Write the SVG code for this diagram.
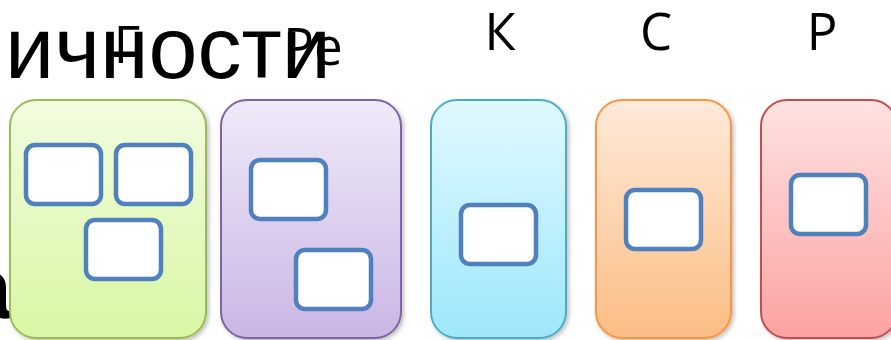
<svg xmlns="http://www.w3.org/2000/svg" width="891" height="340" viewBox="0 0 891 340">
<style>
.title{font-family:"Liberation Sans",Arial,sans-serif;font-size:88px;fill:#000}
.lbl{font-family:"Open Sans","Liberation Sans",sans-serif;font-size:51px;fill:#000;text-anchor:middle}
.inner{fill:#fff;stroke:#4F81BD;stroke-width:4.5}
.card{stroke-width:2}
</style>
<defs>
<filter id="sh" x="-10%" y="-10%" width="125%" height="125%">
<feDropShadow dx="2" dy="2" stdDeviation="2" flood-color="#000" flood-opacity="0.25"/>
</filter>
<linearGradient id="gG" x1="0" y1="0" x2="0" y2="1"><stop offset="0" stop-color="#F2FCE0"/><stop offset="1" stop-color="#D8F7A4"/></linearGradient>
<linearGradient id="gP" x1="0" y1="0" x2="0" y2="1"><stop offset="0" stop-color="#F0EAF9"/><stop offset="1" stop-color="#CBB6E5"/></linearGradient>
<linearGradient id="gC" x1="0" y1="0" x2="0" y2="1"><stop offset="0" stop-color="#E1F9FF"/><stop offset="1" stop-color="#9DE7FB"/></linearGradient>
<linearGradient id="gO" x1="0" y1="0" x2="0" y2="1"><stop offset="0" stop-color="#FFEADA"/><stop offset="1" stop-color="#FBBD84"/></linearGradient>
<linearGradient id="gR" x1="0" y1="0" x2="0" y2="1"><stop offset="0" stop-color="#FFE2E2"/><stop offset="1" stop-color="#FCA2A2"/></linearGradient>
</defs>
<text class="title" x="331" y="78" text-anchor="end">личности</text>
<text x="12" y="318" text-anchor="end" style="font-family:'Liberation Sans',Arial,sans-serif;font-size:88px;font-weight:bold;fill:#000">а</text>
<g id="connectors"/>
<g id="node-g">
<rect class="card" x="10" y="100" width="196" height="238" rx="26" fill="url(#gG)" stroke="#9BBB59" filter="url(#sh)"/>
<rect class="inner" x="26" y="145" width="75" height="59" rx="9"/>
<rect class="inner" x="116" y="145" width="75" height="59" rx="9"/>
<rect class="inner" x="86" y="220" width="75" height="59" rx="9"/>
<text class="lbl" x="127" y="63">Г</text>
</g>
<g id="node-re">
<rect class="card" x="221" y="100" width="180" height="238" rx="26" fill="url(#gP)" stroke="#8064A2" filter="url(#sh)"/>
<rect class="inner" x="251" y="160" width="75" height="59" rx="9"/>
<rect class="inner" x="296" y="250" width="75" height="59" rx="9"/>
<text class="lbl" x="313" y="65">Ре</text>
</g>
<g id="node-k">
<rect class="card" x="431" y="100" width="135" height="238" rx="26" fill="url(#gC)" stroke="#4BACC6" filter="url(#sh)"/>
<rect class="inner" x="461" y="205" width="75" height="59" rx="9"/>
<text class="lbl" x="500" y="50">К</text>
</g>
<g id="node-s">
<rect class="card" x="596" y="100" width="135" height="238" rx="26" fill="url(#gO)" stroke="#F79646" filter="url(#sh)"/>
<rect class="inner" x="626" y="190" width="75" height="59" rx="9"/>
<text class="lbl" x="656" y="50">С</text>
</g>
<g id="node-r">
<rect class="card" x="761" y="100" width="136" height="238" rx="26" fill="url(#gR)" stroke="#C0504D" filter="url(#sh)"/>
<rect class="inner" x="791" y="175" width="75" height="59" rx="9"/>
<text class="lbl" x="822" y="50">Р</text>
</g>
</svg>
